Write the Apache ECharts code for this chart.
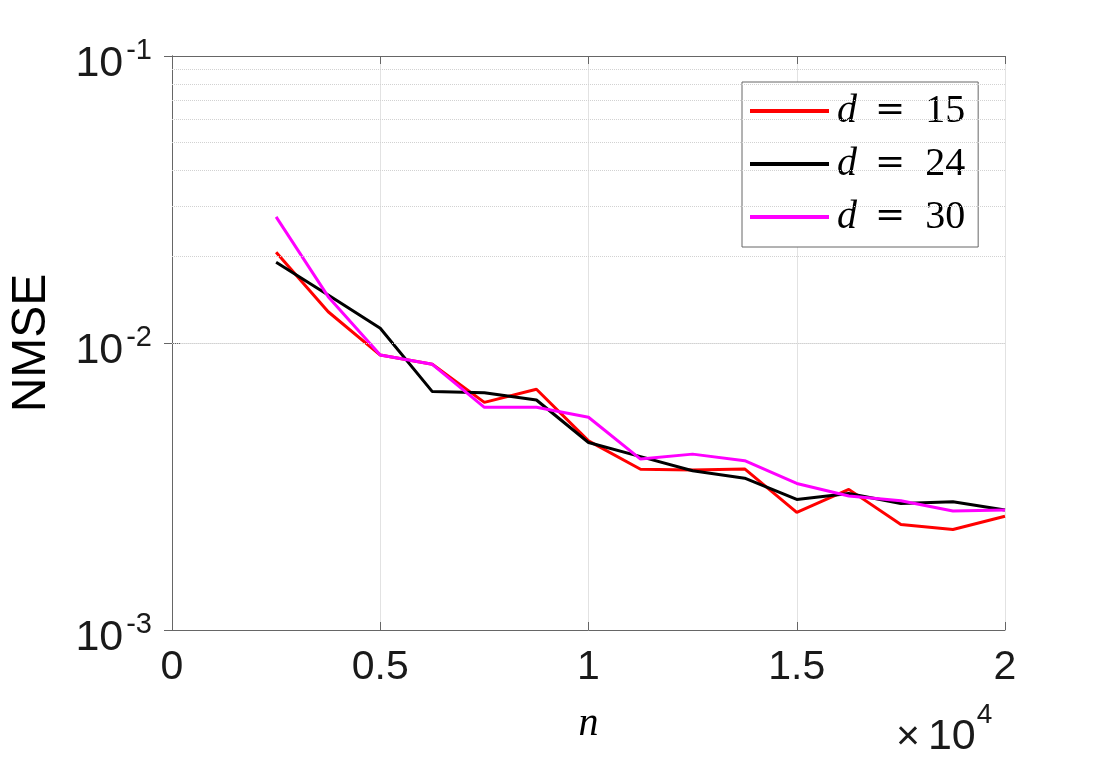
<!DOCTYPE html>
<html>
<head>
<meta charset="utf-8">
<script src="https://cdn.jsdelivr.net/npm/echarts@6/dist/echarts.min.js"></script>
<style>
  html, body { margin: 0; padding: 0; background: #fff; }
  #chart { width: 1110px; height: 759px; }
</style>
</head>
<body>
<div id="chart"></div>
<script>
// sample sizes n
var nValues = [2500, 3750, 5000, 6250, 7500, 8750, 10000, 11250, 12500, 13750, 15000, 16250, 17500, 18750, 20000];

// NMSE per dimension d
var nmseD15 = [0.0207, 0.01285, 0.00908, 0.00843, 0.00621, 0.0069, 0.00456, 0.00363, 0.00361, 0.00364, 0.00257, 0.00309, 0.00233, 0.00224, 0.00249];
var nmseD24 = [0.0191, 0.0147, 0.01125, 0.00677, 0.00671, 0.00633, 0.0045, 0.00402, 0.00359, 0.00338, 0.00285, 0.00299, 0.00276, 0.0028, 0.00262];
var nmseD30 = [0.0275, 0.0145, 0.00908, 0.00843, 0.00597, 0.00597, 0.00551, 0.00394, 0.0041, 0.00389, 0.00324, 0.00293, 0.00282, 0.0026, 0.00262];

var seriesNames = ['d = 15', 'd = 24', 'd = 30'];
var dLabels = ['15', '24', '30'];

// tick labels
var xTickValues = [0, 5000, 10000, 15000, 20000];
var xTickLabels = ['0', '0.5', '1', '1.5', '2'];
var yTickValues = [0.001, 0.01, 0.1];
var yTickExps = ['-3', '-2', '-1'];
// minor (dotted) grid values of the log axis
var yMinorValues = [0.002, 0.003, 0.004, 0.005, 0.006, 0.007, 0.008, 0.009,
                    0.02, 0.03, 0.04, 0.05, 0.06, 0.07, 0.08, 0.09];

function pairs(ys) {
  return nValues.map(function (n, i) { return [n, ys[i]]; });
}

var sans = 'Liberation Sans, Arial, sans-serif';
var serif = 'Liberation Serif, Times New Roman, serif';

function lineSeries(name, ys, color) {
  return {
    name: name,
    type: 'line',
    data: pairs(ys),
    symbol: 'none',
    z: 3,
    itemStyle: { color: color },
    lineStyle: { color: color, width: 3 }
  };
}

var chart = echarts.init(document.getElementById('chart'));

var option = {
  animation: false,
  backgroundColor: '#fff',
  grid: { left: 170, right: 105, top: 56, bottom: 129 },
  legend: {
    data: seriesNames,
    orient: 'vertical',
    left: 742,
    top: 82,
    padding: [9, 13, 10, 8],
    itemGap: 13,
    itemWidth: 79,
    itemHeight: 4,
    icon: 'rect',
    borderColor: '#666',
    borderWidth: 1,
    backgroundColor: '#fff',
    formatter: function (name) {
      return '{i|d}{e|=}{n|' + dLabels[seriesNames.indexOf(name)] + '}';
    },
    textStyle: {
      rich: {
        i: { fontFamily: serif, fontStyle: 'italic', fontSize: 40, lineHeight: 40, color: '#000', padding: [0, 0, 0, 3] },
        e: { fontFamily: 'DejaVu Serif, serif', fontSize: 36, lineHeight: 40, color: '#000', padding: [0, 20, 0, 18] },
        n: { fontFamily: serif, fontSize: 40, lineHeight: 40, color: '#000' }
      }
    }
  },
  xAxis: [{
    type: 'value',
    min: 0,
    max: 20000,
    interval: 5000,
    name: 'n',
    nameLocation: 'middle',
    nameGap: 74,
    nameTextStyle: { fontFamily: serif, fontStyle: 'italic', fontSize: 40, color: '#000' },
    axisLine: { show: true, onZero: false, lineStyle: { color: '#666', width: 1 } },
    axisTick: { show: true, inside: true, length: 8, lineStyle: { color: '#666' } },
    axisLabel: {
      margin: 17,
      fontFamily: sans,
      fontSize: 41,
      color: '#1a1a1a',
      formatter: function (v) {
        var i = xTickValues.indexOf(v);
        return i >= 0 ? xTickLabels[i] : '';
      }
    },
    splitLine: { show: true, lineStyle: { color: '#e2e2e2', width: 1 } }
  }, {
    type: 'value',
    position: 'top',
    min: 0,
    max: 20000,
    interval: 5000,
    axisLine: { show: true, onZero: false, lineStyle: { color: '#666', width: 1 } },
    axisTick: { show: true, inside: true, length: 8, lineStyle: { color: '#666' } },
    axisLabel: { show: false },
    splitLine: { show: false }
  }],
  yAxis: [{
    type: 'log',
    logBase: 10,
    min: 0.001,
    max: 0.1,
    name: 'NMSE',
    nameLocation: 'middle',
    nameGap: 116,
    nameTextStyle: { fontFamily: sans, fontSize: 48, color: '#000' },
    axisLine: { show: true, lineStyle: { color: '#666', width: 1 } },
    axisTick: { show: true, inside: true, length: 8, lineStyle: { color: '#666' } },
    axisLabel: {
      margin: 20,
      formatter: function (v) {
        var e = Math.round(Math.log(v) / Math.LN10);
        var i = yTickValues.map(function (t) { return Math.round(Math.log(t) / Math.LN10); }).indexOf(e);
        return i >= 0 ? '{b|10}{s|' + yTickExps[i] + '}' : '';
      },
      rich: {
        b: { fontFamily: sans, fontSize: 43, lineHeight: 43, color: '#1a1a1a', verticalAlign: 'middle', padding: [16, 0, 0, 0] },
        s: { fontFamily: sans, fontSize: 29, lineHeight: 29, color: '#1a1a1a', verticalAlign: 'middle', padding: [0, 0, 10, 3] }
      }
    },
    splitLine: { show: true, lineStyle: { color: '#e2e2e2', width: 1 } }
  }, {
    type: 'log',
    logBase: 10,
    min: 0.001,
    max: 0.1,
    position: 'right',
    axisLine: { show: true, lineStyle: { color: '#666', width: 1 } },
    axisTick: { show: true, inside: true, length: 8, lineStyle: { color: '#666' } },
    axisLabel: { show: false },
    splitLine: { show: false }
  }],
  graphic: [{
    type: 'text',
    left: 896,
    top: 701,
    z: 10,
    style: {
      text: '{x|\u00d7}{b|10}{s|4}',
      rich: {
        x: { fontFamily: sans, fontSize: 41, lineHeight: 41, fill: '#1a1a1a', verticalAlign: 'top', padding: [16, 8, 0, 0] },
        b: { fontFamily: sans, fontSize: 43, lineHeight: 43, fill: '#1a1a1a', verticalAlign: 'top', padding: [15, 1, 0, 0] },
        s: { fontFamily: sans, fontSize: 28, lineHeight: 28, fill: '#1a1a1a', verticalAlign: 'top' }
      }
    }
  }],
  series: [
    {
      name: 'minor-grid',
      type: 'line',
      data: [],
      z: 1,
      silent: true,
      markLine: {
        silent: true,
        symbol: ['none', 'none'],
        label: { show: false },
        lineStyle: { color: '#d2d2d2', type: 'dotted', width: 1 },
        data: yMinorValues.map(function (v) { return { yAxis: v }; })
      }
    },
    lineSeries(seriesNames[0], nmseD15, '#ff0000'),
    lineSeries(seriesNames[1], nmseD24, '#000000'),
    lineSeries(seriesNames[2], nmseD30, '#ff00ff')
  ]
};

chart.setOption(option);
</script>
</body>
</html>
